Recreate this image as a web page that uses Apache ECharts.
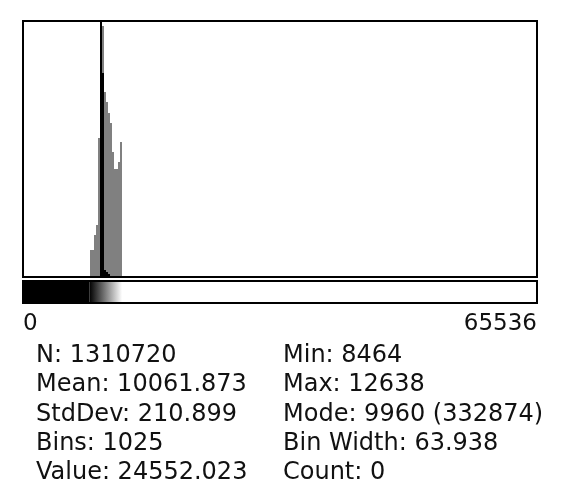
<!DOCTYPE html>
<html>
<head>
<meta charset="utf-8">
<script src="https://cdn.jsdelivr.net/npm/echarts@6/dist/echarts.min.js"></script>
<style>
html,body{margin:0;padding:0;background:#fff;}
#chart{width:576px;height:488px;}
</style>
</head>
<body>
<div id="chart"></div>
<script>
// ---- data (ImageJ-style histogram) ----
const valueRange = [0, 65536];
// centres of the displayed histogram columns (pixel values)
const binCenters = [8670, 8925, 9180, 9435, 9690, 9945, 10200, 10455, 10710, 10965, 11220, 11475, 11730, 11985, 12240, 12495];
// log-scaled counts (grey), display level 0..255
const logLevels = [26, 26, 41, 51, 138, 255, 250, 184, 174, 163, 153, 124, 107, 107, 114, 134];
// linear counts (black), display level 0..255 (mode bin exceeds the top)
const linearLevels = [0, 0, 0, 0, 0, 400, 203, 6, 4, 2, 0, 0, 0, 0, 0, 0];
// display range of the LUT bar
const lutMin = 8464;
const lutMax = 12638;
const axisTickLabels = ['0', '65536'];
const statsLeft = ['N: 1310720', 'Mean: 10061.873', 'StdDev: 210.899', 'Bins: 1025', 'Value: 24552.023'];
const statsRight = ['Min: 8464', 'Max: 12638', 'Mode: 9960 (332874)', 'Bin Width: 63.938', 'Count: 0'];

const FONT = '"DejaVu Sans", sans-serif';
const chart = echarts.init(document.getElementById('chart'), null, {renderer: 'canvas'});

const greyData = binCenters.map((c, i) => [c, logLevels[i]]);
const blackData = binCenters.map((c, i) => [c, linearLevels[i]]);
const lutData = [
  [valueRange[0], lutMin, 0],
  [lutMin, lutMax, 1],
  [lutMax, valueRange[1], 2]
];

const graphics = [];
statsLeft.forEach((t, i) => {
  graphics.push({type: 'text', x: 36, y: 356 + i * 29.2,
    style: {text: t, font: '24px ' + FONT, fill: '#111', verticalAlign: 'middle'}});
});
statsRight.forEach((t, i) => {
  graphics.push({type: 'text', x: 283, y: 356 + i * 29.2,
    style: {text: t, font: '24px ' + FONT, fill: '#111', verticalAlign: 'middle'}});
});

const option = {
  backgroundColor: '#fff',
  animation: false,
  grid: [
    {left: 23, top: 21, width: 514, height: 256, show: true, borderColor: '#000', borderWidth: 2, z: 10},
    {left: 23, top: 281, width: 514, height: 22, show: true, borderColor: '#000', borderWidth: 2, z: 10}
  ],
  xAxis: [
    {gridIndex: 0, type: 'value', min: valueRange[0], max: valueRange[1], show: false},
    {gridIndex: 1, type: 'value', min: valueRange[0], max: valueRange[1], interval: valueRange[1],
      axisLine: {show: false}, axisTick: {show: false}, splitLine: {show: false},
      axisLabel: {show: true, margin: 10, fontSize: 23, fontFamily: FONT, color: '#111',
        alignMinLabel: 'left', alignMaxLabel: 'right',
        formatter: (v) => v === valueRange[0] ? axisTickLabels[0] : axisTickLabels[1]}}
  ],
  yAxis: [
    {gridIndex: 0, type: 'value', min: -1, max: 255, show: false},
    {gridIndex: 1, type: 'value', min: 0, max: 1, show: false}
  ],
  series: [
    {type: 'bar', xAxisIndex: 0, yAxisIndex: 0, data: greyData, barWidth: 2, barGap: '-100%',
      itemStyle: {color: '#808080'}, z: 2},
    {type: 'bar', xAxisIndex: 0, yAxisIndex: 0, data: blackData, barWidth: 2, barGap: '-100%',
      itemStyle: {color: '#000'}, z: 3},
    {type: 'custom', xAxisIndex: 1, yAxisIndex: 1, data: lutData,
      renderItem: function (params, api) {
        const p0 = api.coord([api.value(0), 1]);
        const p1 = api.coord([api.value(1), 0]);
        const kind = api.value(2);
        let fill;
        if (kind === 0) fill = '#000';
        else if (kind === 2) fill = '#fff';
        else fill = new echarts.graphic.LinearGradient(0, 0, 1, 0, [
          {offset: 0, color: '#000'}, {offset: 1, color: '#fff'}]);
        return {type: 'rect', shape: {x: p0[0], y: p0[1], width: p1[0] - p0[0], height: p1[1] - p0[1]},
          style: {fill: fill}};
      }}
  ],
  graphic: graphics
};
chart.setOption(option);
</script>
</body>
</html>
